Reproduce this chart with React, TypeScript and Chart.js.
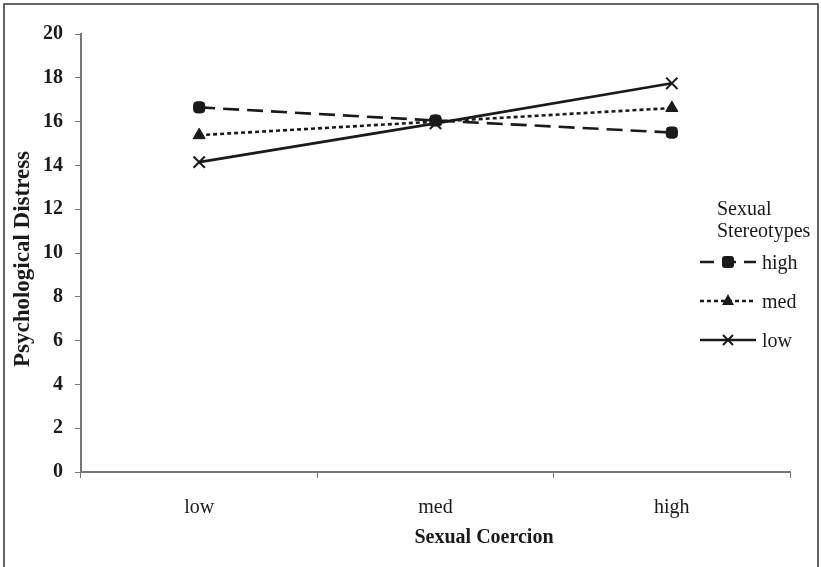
import React, { useEffect, useRef } from "react";
import { Chart, registerables } from "chart.js";

Chart.register(...registerables);

const categories = ["low", "med", "high"];
const seriesNames = ["high", "med", "low"];
const highValues = [16.65, 16.05, 15.5];
const medValues = [15.38, 16.0, 16.62];
const lowValues = [14.15, 15.92, 17.75];
const yTicks = [0, 2, 4, 6, 8, 10, 12, 14, 16, 18, 20];
const legendTitle = ["Sexual", "Stereotypes"];
const xTitle = "Sexual Coercion";
const yTitle = "Psychological Distress";

const INK = "#1a1a1a";
const SERIF = "'Liberation Serif', 'DejaVu Serif', serif";

const dashes: number[][] = [[16, 8], [4, 3], []];
const pointStyles: any[] = ["rectRounded", "triangle", "crossRot"];
const pointRadii = [6.5, 7, 8];

const framePlugin = {
  id: "frame",
  afterDraw(chart: any) {
    const ctx = chart.ctx;
    ctx.save();
    ctx.strokeStyle = "#333";
    ctx.lineWidth = 1.5;
    ctx.beginPath();
    ctx.moveTo(4, 567);
    ctx.lineTo(4, 4);
    ctx.lineTo(818, 4);
    ctx.lineTo(818, 567);
    ctx.stroke();
    ctx.restore();
  },
};

const titlesPlugin = {
  id: "titles",
  afterDraw(chart: any) {
    const ctx = chart.ctx;
    ctx.save();
    ctx.fillStyle = INK;
    ctx.textAlign = "center";
    ctx.textBaseline = "middle";
    ctx.font = `bold 20px ${SERIF}`;
    ctx.fillText(xTitle, 484, 538);
    ctx.translate(23, 259);
    ctx.rotate(-Math.PI / 2);
    ctx.font = `bold 23px ${SERIF}`;
    ctx.fillText(yTitle, 0, 0);
    ctx.restore();
  },
};

const legendPlugin = {
  id: "customLegend",
  afterDraw(chart: any) {
    const ctx = chart.ctx;
    ctx.save();
    ctx.fillStyle = "#fff";
    ctx.fillRect(696, 196, 118, 160);
    ctx.fillStyle = INK;
    ctx.font = `20px ${SERIF}`;
    ctx.textBaseline = "middle";
    ctx.textAlign = "left";
    ctx.fillText(legendTitle[0], 717, 210);
    ctx.fillText(legendTitle[1], 717, 232);
    const ys = [262, 301, 340];
    seriesNames.forEach((name, i) => {
      const y = ys[i];
      ctx.strokeStyle = INK;
      ctx.lineWidth = 2.4;
      ctx.setLineDash(i === 0 ? [14, 8] : dashes[i]);
      ctx.beginPath();
      ctx.moveTo(700, y);
      ctx.lineTo(756, y);
      ctx.stroke();
      ctx.setLineDash([]);
      const x = 728;
      ctx.fillStyle = INK;
      if (i === 0) {
        ctx.beginPath();
        (ctx as any).roundRect(x - 6, y - 6, 12, 12, 3);
        ctx.fill();
      } else if (i === 1) {
        ctx.beginPath();
        ctx.moveTo(x, y - 7);
        ctx.lineTo(x + 6, y + 4);
        ctx.lineTo(x - 6, y + 4);
        ctx.closePath();
        ctx.fill();
      } else {
        ctx.lineWidth = 2;
        ctx.beginPath();
        ctx.moveTo(x - 5, y - 5);
        ctx.lineTo(x + 5, y + 5);
        ctx.moveTo(x + 5, y - 5);
        ctx.lineTo(x - 5, y + 5);
        ctx.stroke();
      }
      ctx.fillStyle = INK;
      ctx.fillText(name, 762, y + 2);
    });
    ctx.restore();
  },
};

export default function App() {
  const ref = useRef<HTMLCanvasElement | null>(null);
  useEffect(() => {
    document.body.style.margin = "0";
    const values = [highValues, medValues, lowValues];
    const chart = new Chart(ref.current as HTMLCanvasElement, {
      type: "line",
      data: {
        labels: categories,
        datasets: seriesNames.map((name, i) => ({
          label: name,
          data: values[i],
          borderColor: INK,
          backgroundColor: INK,
          borderWidth: 2.6,
          borderDash: dashes[i],
          pointStyle: pointStyles[i],
          pointRadius: pointRadii[i],
          pointBorderWidth: i === 2 ? 2 : 1,
          pointBorderColor: INK,
          pointBackgroundColor: INK,
          tension: 0,
        })),
      },
      options: {
        animation: false,
        responsive: false,
        devicePixelRatio: 1,
        layout: { padding: { left: 0, top: 34, right: 31, bottom: 0 } },
        plugins: {
          legend: { display: false },
          tooltip: { enabled: false },
        },
        scales: {
          x: {
            offset: true,
            afterFit(scale: any) {
              scale.height = 95;
            },
            grid: {
              offset: true,
              drawOnChartArea: false,
              drawTicks: true,
              tickLength: 6,
              color: "#777",
            },
            border: { color: "#777", width: 2 },
            ticks: {
              color: INK,
              font: { family: SERIF, size: 20 },
              padding: 18,
            },
          },
          y: {
            min: 0,
            max: 20,
            afterFit(scale: any) {
              scale.width = 81;
            },
            afterBuildTicks(axis: any) {
              axis.ticks = yTicks.map((v) => ({ value: v }));
            },
            grid: {
              drawOnChartArea: false,
              drawTicks: true,
              tickLength: 6,
              color: "#777",
            },
            border: { color: "#777", width: 2 },
            ticks: {
              color: INK,
              font: { family: SERIF, size: 20, weight: "bold" },
              padding: 12,
            },
          },
        },
      },
      plugins: [legendPlugin, titlesPlugin, framePlugin],
    });
    return () => chart.destroy();
  }, []);
  return (
    <div style={{ width: 821, height: 567, background: "#fff" }}>
      <canvas ref={ref} width={821} height={567} style={{ display: "block" }} />
    </div>
  );
}
